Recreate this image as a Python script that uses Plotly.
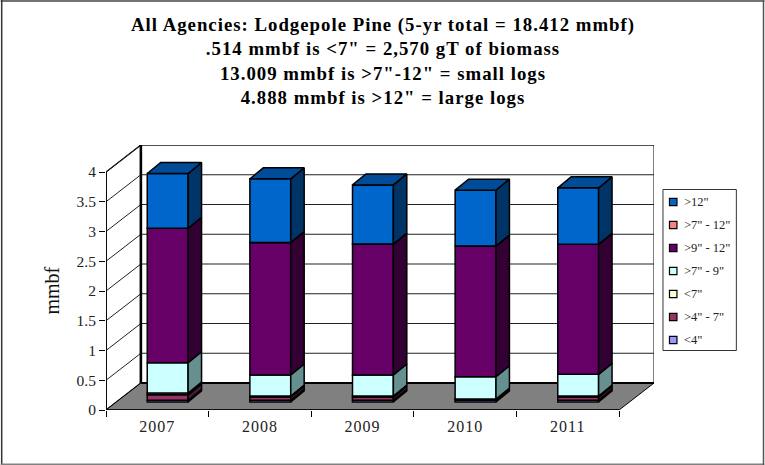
import plotly.graph_objects as go

years = ["2007", "2008", "2009", "2010", "2011"]
y_ticks = [0, 0.5, 1, 1.5, 2, 2.5, 3, 3.5, 4]
y_tick_text = ["0", "0.5", "1", "1.5", "2", "2.5", "3", "3.5", "4"]

# stacked bottom to top (mmbf)
lt4 = [0.03, 0.03, 0.03, 0.03, 0.03]
in4_7 = [0.09, 0.05, 0.05, 0.01, 0.05]
lt7 = [0.03, 0.02, 0.02, 0.01, 0.02]
in7_9 = [0.51, 0.354, 0.354, 0.375, 0.365]
in9_12 = [2.26, 2.226, 2.20, 2.195, 2.185]
in7_12 = [0, 0, 0, 0, 0]
gt12 = [0.92, 1.07, 0.995, 0.94, 0.95]

series = [
    ('<4"', lt4, "#9999FF", "#4D4D80", "#7373BF"),
    ('>4" - 7"', in4_7, "#993366", "#4D1A33", "#73264D"),
    ('<7"', lt7, "#FFFFCC", "#808066", "#BFBF99"),
    ('>7" - 9"', in7_9, "#CCFFFF", "#669090", "#99BFBF"),
    ('>9" - 12"', in9_12, "#660066", "#330033", "#4D004D"),
    ('>7" - 12"', in7_12, "#FF8080", "#804040", "#BF6060"),
    ('>12"', gt12, "#0066CC", "#003366", "#004C99"),
]
legend_order = ['>12"', '>7" - 12"', '>9" - 12"', '>7" - 9"', '<7"', '>4" - 7"', '<4"']
title_lines = [
    "All Agencies: Lodgepole Pine (5-yr total = 18.412 mmbf)",
    '.514 mmbf is <7" = 2,570 gT of biomass',
    '13.009 mmbf is >7"-12" = small logs',
    '4.888 mmbf is >12" = large logs',
]

# pixel frame of the pseudo-3D box
W, H = 765, 465
L, R, T, B = 105.5, 654.5, 145.0, 410.0
PX_X = 103.0
PX_Y = 59.5
WALL_DX = 35 / PX_X
WALL_DY = 27 / PX_Y
BAR_W = 41 / PX_X
BAR_DX = 13.5 / PX_X
BAR_DY = 11 / PX_Y
OFF_X = 10.4 / PX_X
OFF_Y = 8 / PX_Y
n = len(years)
x_max = n + WALL_DX
y_max = 4 + WALL_DY


def px(x):
    return (x - L) / (R - L)


def py(y):
    return (B - y) / (B - T)


def poly(points):
    return "M" + "L".join(f"{a},{b}" for a, b in points) + "Z"


fig = go.Figure()
shapes = []
annotations = []

# walls and floor
shapes.append(dict(type="path", xref="x", yref="y", layer="below", line=dict(color="black", width=1.3),
                   fillcolor="white",
                   path=poly([(0, 0), (0, 4), (WALL_DX, y_max), (WALL_DX, WALL_DY)])))
shapes.append(dict(type="path", xref="x", yref="y", layer="below", line=dict(color="black", width=1),
                   fillcolor="white",
                   path=poly([(WALL_DX, WALL_DY), (WALL_DX, y_max), (x_max, y_max), (x_max, WALL_DY)])))
for v in y_ticks[1:]:
    shapes.append(dict(type="path", xref="x", yref="y", layer="below", line=dict(color="#222222", width=1),
                       path=f"M0,{v}L{WALL_DX},{v + WALL_DY}L{x_max},{v + WALL_DY}"))
shapes.append(dict(type="path", xref="x", yref="y", layer="below", line=dict(color="black", width=1),
                   fillcolor="#808080",
                   path=poly([(0, 0), (n, 0), (x_max, WALL_DY), (WALL_DX, WALL_DY)])))
shapes.append(dict(type="line", xref="x", yref="y", layer="below", line=dict(color="black", width=2.6),
                   x0=WALL_DX, x1=WALL_DX, y0=WALL_DY, y1=y_max))
shapes.append(dict(type="line", xref="x", yref="y", layer="below", line=dict(color="black", width=2),
                   x0=WALL_DX, x1=x_max, y0=WALL_DY, y1=WALL_DY))
shapes.append(dict(type="line", xref="x", yref="y", layer="below", line=dict(color="black", width=1.8),
                   x0=0, x1=0, y0=0, y1=4))
shapes.append(dict(type="line", xref="x", yref="y", layer="below", line=dict(color="black", width=1.5),
                   x0=0, x1=n, y0=0, y1=0))

# bars: front faces from the library, side faces from the same stacked values, top face on the last series
centers = [i + 0.5 + OFF_X for i in range(n)]
bases = [OFF_Y] * n
for name, vals, front, side, top in series:
    fig.add_trace(go.Bar(x=centers, y=vals, base=list(bases), width=BAR_W, name=name,
                         marker=dict(color=front, line=dict(color="black", width=1.5)),
                         showlegend=False))
    sx, sy, tx, ty = [], [], [], []
    for i, c in enumerate(centers):
        x1 = c + BAR_W / 2
        x0 = c - BAR_W / 2
        y0 = bases[i]
        y1 = y0 + vals[i]
        sx += [x1, x1 + BAR_DX, x1 + BAR_DX, x1, x1, None]
        sy += [y0, y0 + BAR_DY, y1 + BAR_DY, y1, y0, None]
        tx += [x0, x1, x1 + BAR_DX, x0 + BAR_DX, x0, None]
        ty += [y1, y1, y1 + BAR_DY, y1 + BAR_DY, y1, None]
    fig.add_trace(go.Scatter(x=sx, y=sy, mode="lines", fill="toself", fillcolor=side,
                             line=dict(color="black", width=1.5), showlegend=False, hoverinfo="skip"))
    if name == series[-1][0]:
        fig.add_trace(go.Scatter(x=tx, y=ty, mode="lines", fill="toself", fillcolor=top,
                                 line=dict(color="black", width=1.5), showlegend=False, hoverinfo="skip"))
    bases = [b + v for b, v in zip(bases, vals)]

# legend
colors = {s[0]: s[2] for s in series}
shapes.append(dict(type="rect", xref="paper", yref="paper", layer="above",
                   x0=px(663.5), x1=px(737), y0=py(189.5), y1=py(350.5),
                   line=dict(color="#333333", width=1), fillcolor="white"))
for i, name in enumerate(legend_order):
    cy = 202 + i * 23
    shapes.append(dict(type="rect", xref="paper", yref="paper", layer="above",
                       x0=px(670), x1=px(677.5), y0=py(cy + 3.7), y1=py(cy - 3.7),
                       line=dict(color="black", width=1.2), fillcolor=colors[name]))
    annotations.append(dict(xref="paper", yref="paper", x=px(682.5), y=py(cy), xanchor="left", yanchor="middle",
                            text=name, showarrow=False, font=dict(family="Liberation Serif", size=12.5, color="#222222")))

# y axis title
annotations.append(dict(xref="paper", yref="paper", x=px(51), y=py(291), xanchor="center", yanchor="middle",
                        text="mmbf", textangle=-90, showarrow=False,
                        font=dict(family="Liberation Serif", size=20, color="#111111")))

# outer frame
for (x0, y0, x1, y1, col) in [(0, 1, 765, 1, "#444444"), (1, 0, 1, 465, "#333333"),
                              (0, 464.3, 765, 464.3, "#808080"), (764.2, 0, 764.2, 465, "#555555")]:
    shapes.append(dict(type="line", xref="paper", yref="paper", x0=px(x0), x1=px(x1), y0=py(y0), y1=py(y1),
                       line=dict(color=col, width=1.5)))

fig.update_layout(
    width=W, height=H, barmode="overlay", showlegend=False,
    paper_bgcolor="white", plot_bgcolor="white",
    margin=dict(l=L, r=W - R, t=T, b=H - B, pad=0),
    title=dict(text="<br>".join(title_lines), x=383 / W, xanchor="center", y=1 - 31 / H, yanchor="top",
               font=dict(family="Liberation Serif", size=18.8, color="black", weight="bold")),
    xaxis=dict(range=[0, x_max], showgrid=False, zeroline=False, showline=False,
               tickvals=[i + 0.5 for i in range(n)], ticktext=years, ticks="", ticklen=0, ticklabelstandoff=5,
               tickfont=dict(family="Liberation Serif", size=16, color="#222222"),
               minor=dict(tickvals=list(range(n + 1)), ticks="outside", ticklen=6, tickcolor="black", showgrid=False)),
    yaxis=dict(range=[0, y_max], showgrid=False, zeroline=False, showline=False,
               tickvals=y_ticks, ticktext=y_tick_text, ticks="outside", ticklen=6, tickcolor="black",
               tickfont=dict(family="Liberation Serif", size=15.5, color="#222222")),
    shapes=shapes, annotations=annotations,
)
fig.write_html("out.html", config=dict(displayModeBar=False),
               post_script="document.body.style.margin='0';document.body.style.overflow='hidden';"
                           "var s=document.createElement('style');"
                           "s.textContent='.gtitle{letter-spacing:1px}.xtick text{letter-spacing:1px}';"
                           "document.head.appendChild(s);")
